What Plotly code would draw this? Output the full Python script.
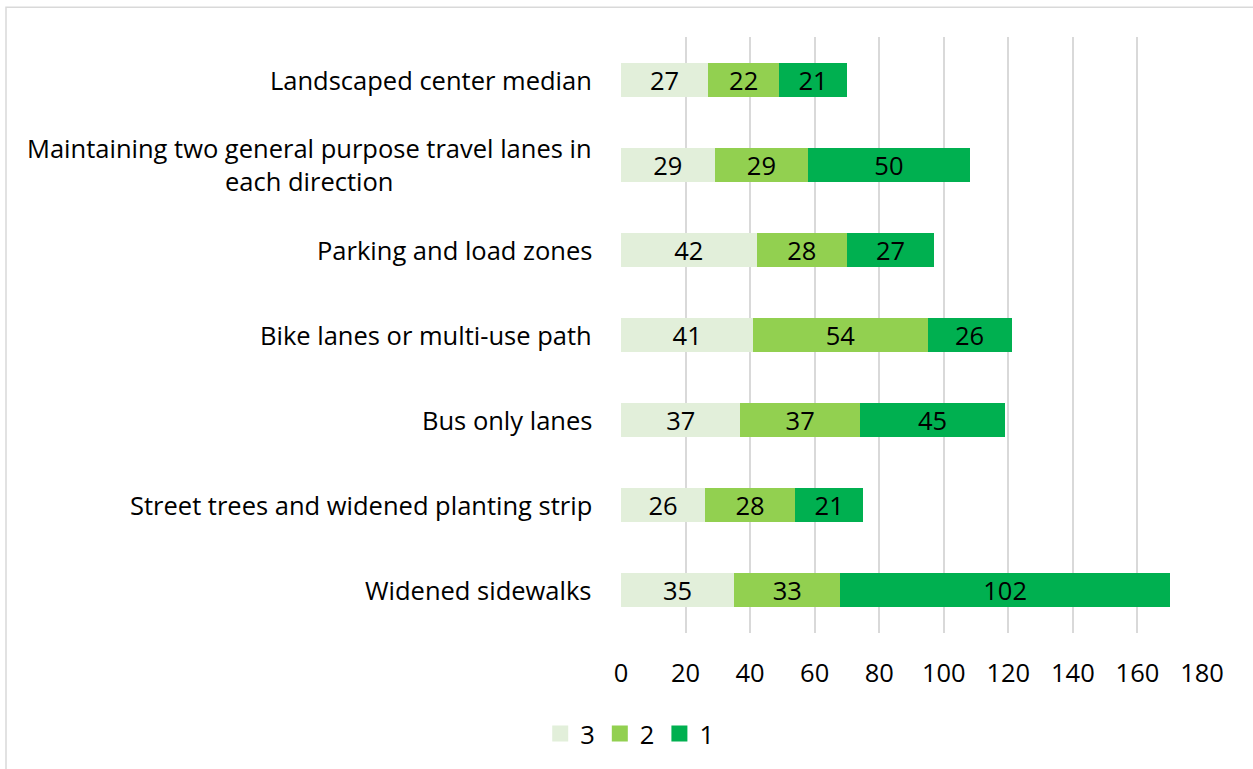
import plotly.graph_objects as go

categories = [
    "Landscaped center median",
    "Maintaining two general purpose travel lanes in<br>each direction",
    "Parking and load zones",
    "Bike lanes or multi-use path",
    "Bus only lanes",
    "Street trees and widened planting strip",
    "Widened sidewalks",
]
rank3 = [27, 29, 42, 41, 37, 26, 35]
rank2 = [22, 29, 28, 54, 37, 28, 33]
rank1 = [21, 50, 27, 26, 45, 21, 102]
series_names = ["3", "2", "1"]
series_colors = ["#E2EFDA", "#92D050", "#00B050"]
x_ticks = list(range(0, 181, 20))

FONT = "Open Sans, sans-serif"
FS = 25.5

fig = go.Figure()
for name, vals, color in zip(series_names, [rank3, rank2, rank1], series_colors):
    fig.add_trace(go.Bar(
        y=categories, x=vals, name=name, orientation="h",
        marker=dict(color=color, line=dict(width=0)),
        text=vals, textposition="inside", insidetextanchor="middle",
        textangle=0, constraintext="none",
        textfont=dict(family=FONT, size=FS, color="#000000"),
        showlegend=False,
    ))

# Legend entries with square swatches
for name, color in zip(series_names, series_colors):
    fig.add_trace(go.Scatter(
        x=[None], y=[None], mode="markers", name=name,
        marker=dict(symbol="square", size=17, color=color),
        showlegend=True,
    ))

# Category labels drawn as centered multi-line annotations
for cat in categories:
    fig.add_annotation(
        x=0, xref="paper", y=cat, yref="y", xanchor="right", xshift=-27,
        text=cat, showarrow=False, align="center",
        font=dict(family=FONT, size=FS, color="#000000"),
    )

# Light frame around the chart area
fig.add_shape(type="rect", xref="paper", yref="paper",
              x0=-1.0585, x1=1.2, y0=-0.4, y1=1.050,
              line=dict(color="#D9D9D9", width=1.5), layer="below")

fig.update_layout(
    width=1253, height=769,
    barmode="stack", bargap=0.6,
    plot_bgcolor="white", paper_bgcolor="white",
    margin=dict(l=621, r=51, t=37, b=133),
    font=dict(family=FONT, size=FS, color="#000000"),
    legend=dict(orientation="h", x=0.015, xanchor="center", y=-0.13, yanchor="top",
                font=dict(family=FONT, size=FS), traceorder="normal",
                itemwidth=30, tracegroupgap=0),
)
fig.update_xaxes(range=[0, 180], tickvals=x_ticks, showgrid=True,
                 gridcolor="#D9D9D9", gridwidth=2, zeroline=False,
                 showline=False, ticks="", ticklabelstandoff=22,
                 tickfont=dict(family=FONT, size=FS))
fig.update_yaxes(autorange="reversed", showticklabels=False, showgrid=False,
                 zeroline=False, showline=False, ticks="")

fig.write_html("out.html")
